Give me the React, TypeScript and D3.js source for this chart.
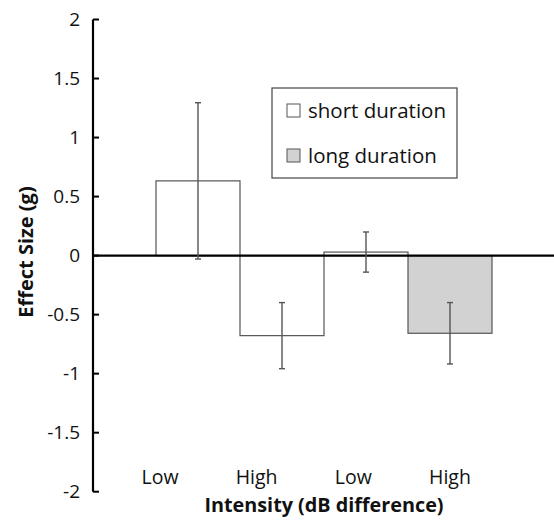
import React from "react";
import * as d3 from "d3";

const categories = ["Low", "High", "Low", "High"];
const durations = ["short", "short", "short", "long"];
const effectSizes = [0.633, -0.678, 0.03, -0.658];
const errorHalf = [0.662, 0.28, 0.17, 0.26];
const yTicks = [2, 1.5, 1, 0.5, 0, -0.5, -1, -1.5, -2];
const legendItems = [
  { key: "short", label: "short duration" },
  { key: "long", label: "long duration" },
];

const W = 554;
const H = 523;
const font = "'Open Sans', sans-serif";
const fills: Record<string, string> = { short: "#ffffff", long: "#d2d2d2" };

export default function App() {
  const axisX = 93;
  const y = d3.scaleLinear().domain([-2, 2]).range([491.7, 19.5]);
  const x = d3
    .scaleBand<number>()
    .domain(d3.range(categories.length))
    .range([axisX, 555])
    .paddingInner(0)
    .paddingOuter(0.75);
  // category labels were set as text boxes, slightly left of bar centres
  const xl = d3.scalePoint<number>().domain(d3.range(categories.length)).range([160, 450]);
  const bw = x.bandwidth();

  return (
    <svg width={W} height={H} style={{ position: "absolute", left: 0, top: 0, background: "#fff" }}>
      {/* bars */}
      {effectSizes.map((v, i) => (
        <rect
          key={"b" + i}
          x={x(i)!}
          y={y(Math.max(0, v))}
          width={bw}
          height={Math.abs(y(v) - y(0))}
          fill={fills[durations[i]]}
          stroke="#555"
          strokeWidth={1.2}
        />
      ))}
      {/* zero line */}
      <line x1={axisX} x2={W} y1={y(0)} y2={y(0)} stroke="#000" strokeWidth={2.2} />
      {/* error bars */}
      {effectSizes.map((v, i) => {
        const cx = x(i)! + bw / 2;
        const hi = y(v + errorHalf[i]);
        const lo = y(v - errorHalf[i]);
        return (
          <g key={"e" + i} stroke="#555" strokeWidth={1.4}>
            <line x1={cx} x2={cx} y1={hi} y2={lo} />
            <line x1={cx - 3} x2={cx + 3} y1={hi} y2={hi} />
            <line x1={cx - 3} x2={cx + 3} y1={lo} y2={lo} />
          </g>
        );
      })}
      {/* y axis */}
      <line x1={axisX} x2={axisX} y1={y(2)} y2={y(-2)} stroke="#000" strokeWidth={2.2} />
      {yTicks.map((t) => (
        <g key={"t" + t}>
          <line x1={axisX} x2={axisX + 6} y1={y(t)} y2={y(t)} stroke="#000" strokeWidth={2} />
          <text
            x={80}
            y={y(t)}
            dy="0.35em"
            textAnchor="end"
            fontFamily={font}
            fontSize={19}
            fill="#111"
          >
            {t}
          </text>
        </g>
      ))}
      {/* category labels */}
      {categories.map((c, i) => (
        <text
          key={"c" + i}
          x={xl(i)}
          y={484}
          textAnchor="middle"
          fontFamily={font}
          fontSize={19.5}
          fill="#111"
        >
          {c}
        </text>
      ))}
      <text x={324} y={512} textAnchor="middle" fontFamily={font} fontSize={19.8} fontWeight="bold" fill="#111">
        Intensity (dB difference)
      </text>
      <text
        transform={`translate(33,252) rotate(-90)`}
        textAnchor="middle"
        fontFamily={font}
        fontSize={20}
        fontWeight="bold"
        fill="#111"
      >
        Effect Size (g)
      </text>
      {/* legend */}
      <rect x={272} y={88} width={185} height={90} fill="#fff" stroke="#444" strokeWidth={1.2} />
      {legendItems.map((d, i) => (
        <g key={d.key} transform={`translate(287,${111 + i * 45})`}>
          <rect x={0} y={-7} width={13} height={13} fill={fills[d.key]} stroke="#555" strokeWidth={1} />
          <text x={21} y={0} dy="0.35em" fontFamily={font} fontSize={20.5} fill="#111">
            {d.label}
          </text>
        </g>
      ))}
    </svg>
  );
}
